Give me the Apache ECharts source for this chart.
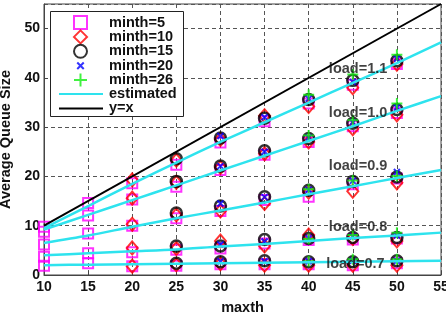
<!DOCTYPE html>
<html>
<head>
<meta charset="utf-8">
<script src="https://cdn.jsdelivr.net/npm/echarts@6/dist/echarts.min.js"></script>
<style>
  html, body { margin: 0; padding: 0; background: #fff; }
  #chart { width: 446px; height: 313px; }
</style>
</head>
<body>
<div id="chart"></div>
<script>
// maxth values on the x axis
const maxth = [10, 15, 20, 25, 30, 35, 40, 45, 50];
const maxthLine = [10, 15, 20, 25, 30, 35, 40, 45, 50, 55];

// measured queue size per maxth, columns = load 1.1, 1.0, 0.9, 0.8, 0.7 (null = not run)
const minth5 = [
  [9.8, 8.8, 6.2, 3.7, 1.9],
  [14.6, 12.1, 8.4, 4.4, 2.4],
  [18.6, 15.3, 10.0, 4.6, 1.8],
  [22.4, 17.9, 11.5, 5.1, 1.9],
  [26.9, 21.3, 13.0, 5.4, 2.2],
  [31.2, 24.4, 15.2, 6.4, 2.2],
  [34.8, 27.0, 15.9, 7.1, 2.2],
  [38.6, 30.2, 18.4, 7.2, 2.0],
  [42.8, 32.9, 19.6, 7.4, 2.4]
];
const minth10 = [
  null, null,
  [19.3, 15.6, 10.3, 5.5, 1.8],
  [23.3, 18.8, 12.2, 5.4, 2.1],
  [27.5, 21.8, 13.0, 6.9, 2.3],
  [32.3, 24.6, 14.5, 5.9, 2.0],
  [34.2, 27.0, 16.8, 8.1, 2.0],
  [38.0, 29.7, 17.0, 7.4, 2.0],
  [42.8, 32.5, 18.7, 6.9, 2.0]
];
const minth15 = [
  null, null, null,
  [23.6, 19.0, 12.6, 5.9, 2.4],
  [27.8, 22.1, 14.0, 5.9, 2.7],
  [31.8, 25.2, 15.9, 7.2, 2.9],
  [35.6, 27.7, 17.2, 7.4, 2.7],
  [39.5, 30.8, 19.0, 7.6, 2.7],
  [43.5, 33.6, 19.9, 7.6, 2.9]
];
const minth20 = [
  null, null, null, null,
  [28.2, 22.1, 14.5, 6.2, 2.8],
  [32.0, 25.0, 15.8, 6.8, 2.8],
  [35.8, 27.9, 17.3, 7.4, 2.8],
  [39.2, 31.0, 19.1, 7.8, 2.9],
  [43.9, 34.0, 20.9, 8.0, 2.9]
];
const minth26 = [
  null, null, null, null, null, null,
  [36.6, 28.3, 17.4, 7.3, 2.8],
  [40.7, 31.4, 19.2, 8.1, 3.2],
  [44.7, 34.8, 20.1, 8.6, 3.2]
];

// estimated curves, one per load, at maxthLine
const est11 = [9.5, 14.0, 18.5, 22.8, 27.0, 31.0, 35.0, 39.0, 43.0, 47.2];
const est10 = [9.2, 12.2, 15.2, 18.2, 21.2, 24.2, 27.2, 30.2, 33.3, 36.3];
const est09 = [6.5, 8.0, 9.8, 11.5, 13.1, 14.7, 16.4, 18.0, 19.7, 21.3];
const est08 = [4.0, 4.4, 4.8, 5.2, 5.8, 6.3, 6.9, 7.5, 8.0, 8.6];
const est07 = [2.0, 2.1, 2.2, 2.3, 2.4, 2.5, 2.6, 2.7, 2.8, 2.9];

const loadNames = ['load=1.1', 'load=1.0', 'load=0.9', 'load=0.8', 'load=0.7'];
const loadLabelX = [45.6, 45.6, 45.6, 45.6, 45.3];
const loadLabelY = [41.9, 32.9, 22.1, 9.8, 2.2];

const font = 'Liberation Sans';
const boldText = { fontFamily: font, fontWeight: 'bold', fontSize: 14.5, color: '#111' };

const xMark = 'path://M0,0L10,10M10,0L0,10';
const plusMark = 'path://M5,0L5,10M0,5L10,5';

function points(rows) {
  const out = [];
  rows.forEach((r, i) => {
    if (!r) return;
    r.forEach(v => out.push([maxth[i], v]));
  });
  return out;
}
function curve(ys) {
  return ys.map((y, i) => [maxthLine[i], y]);
}

function marker(name, rows, symbol, size, color, bw) {
  return {
    name: name,
    type: 'scatter',
    data: points(rows),
    symbol: symbol,
    symbolSize: size,
    itemStyle: { color: 'transparent', borderColor: color, borderWidth: bw },
    z: 2
  };
}

function estLine(ys) {
  return {
    name: 'estimated',
    type: 'line',
    data: curve(ys),
    showSymbol: false,
    symbol: 'none',
    smooth: 0.3,
    lineStyle: { color: '#2ee3ee', width: 2.5 },
    itemStyle: { color: '#2ee3ee' },
    z: 4
  };
}

const chart = echarts.init(document.getElementById('chart'));
chart.setOption({
  animation: false,
  backgroundColor: '#fff',
  textStyle: { fontFamily: font },
  grid: {
    left: 44, right: 5, top: 4, bottom: 38,
    outerBoundsMode: 'none',
    containLabel: false,
    show: true, borderColor: '#444', borderWidth: 1
  },
  graphic: [{
    type: 'rect',
    left: 50, top: 11,
    shape: { width: 133, height: 105 },
    style: { fill: '#fff', stroke: '#222', lineWidth: 1 },
    z: 10
  }],
  legend: [{
    data: [
      'minth=5', 'minth=10', 'minth=15',
      { name: 'minth=20', icon: 'path://M0,0M10,10M2.5,2.5L7.5,7.5M7.5,2.5L2.5,7.5' },
      'minth=26'
    ],
    orient: 'vertical',
    left: 73, top: 15,
    padding: 0,
    itemWidth: 13, itemHeight: 13,
    itemGap: -0.6,
    z: 11,
    textStyle: Object.assign({ padding: [0, 0, 0, 17] }, boldText)
  }, {
    data: ['estimated', 'y=x'],
    orient: 'vertical',
    left: 58, top: 86.5,
    padding: 0,
    itemWidth: 44, itemHeight: 13,
    itemGap: -0.6,
    itemStyle: { opacity: 0 },
    z: 11,
    textStyle: Object.assign({ padding: [0, 0, 0, 1] }, boldText)
  }],
  xAxis: {
    type: 'value',
    min: 10, max: 55, interval: 5,
    name: 'maxth',
    nameLocation: 'middle',
    nameGap: 25,
    nameTextStyle: boldText,
    axisLine: { show: true, lineStyle: { color: '#444' } },
    axisTick: { show: true, inside: true, length: 4, lineStyle: { color: '#444' } },
    axisLabel: { margin: 5, fontFamily: font, fontWeight: 'bold', fontSize: 14, color: '#111' },
    splitLine: { show: true, lineStyle: { color: '#555', type: [4, 3], width: 1 } }
  },
  yAxis: {
    type: 'value',
    min: 0, max: 55, interval: 10,
    name: 'Average Queue Size',
    nameLocation: 'middle',
    nameRotate: 90,
    nameGap: 30,
    nameTextStyle: boldText,
    axisLine: { show: true, lineStyle: { color: '#444' } },
    axisTick: { show: true, inside: true, length: 4, lineStyle: { color: '#444' } },
    axisLabel: { margin: 4, showMaxLabel: false, fontFamily: font, fontWeight: 'bold', fontSize: 14, color: '#111' },
    splitLine: { show: true, lineStyle: { color: '#555', type: [4, 3], width: 1 } }
  },
  series: [
    marker('minth=5', minth5, 'rect', 10, '#ff00ff', 2),
    marker('minth=10', minth10, 'diamond', [11, 13], '#ff0000', 2),
    marker('minth=15', minth15, 'circle', 11, '#000000', 2.5),
    marker('minth=20', minth20, xMark, 6, '#0000ff', 2),
    marker('minth=26', minth26, plusMark, 11, '#11ee11', 2),
    estLine(est11),
    estLine(est10),
    estLine(est09),
    estLine(est08),
    estLine(est07),
    {
      name: 'y=x',
      type: 'line',
      data: [[10, 10], [55, 55]],
      showSymbol: false,
      symbol: 'none',
      lineStyle: { color: '#000', width: 2 },
      itemStyle: { color: '#000' },
      z: 5
    },
    {
      type: 'scatter',
      data: loadNames.map((t, i) => [loadLabelX[i], loadLabelY[i], t]),
      symbolSize: 0,
      silent: true,
      z: 6,
      label: Object.assign({
        show: true,
        position: 'inside',
        formatter: p => p.value[2]
      }, boldText)
    }
  ]
});
</script>
</body>
</html>
